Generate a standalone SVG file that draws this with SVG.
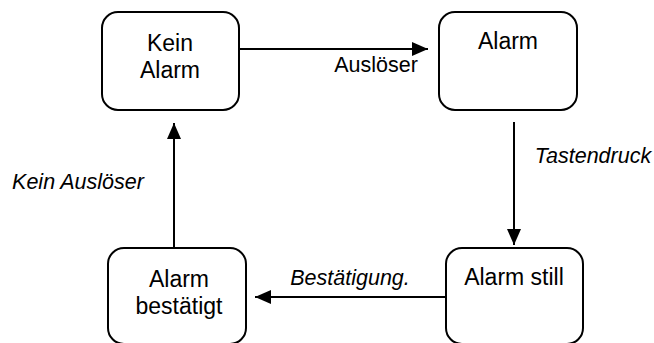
<svg xmlns="http://www.w3.org/2000/svg" width="654" height="343" viewBox="0 0 654 343">
<style>
.box{fill:#fff;stroke:#000;stroke-width:2}
.t{font-family:"Liberation Sans",Arial,sans-serif;font-size:23px;fill:#000;text-anchor:middle}
.l{font-family:"Liberation Sans",Arial,sans-serif;font-size:21.5px;fill:#000;text-anchor:middle}
.i{font-style:italic}
.c{stroke:#000;stroke-width:2;fill:none}
</style>
<defs>
<marker id="ah" markerWidth="16" markerHeight="14" refX="16" refY="7" orient="auto" markerUnits="userSpaceOnUse">
<path d="M0,0 L16,7 L0,14 Z" fill="#000"/>
</marker>
</defs>
<rect width="654" height="343" fill="#fff"/>
<g id="connectors">
<line class="c" x1="239" y1="49" x2="428" y2="49" marker-end="url(#ah)"/>
<line class="c" x1="514" y1="122" x2="514" y2="245" marker-end="url(#ah)"/>
<line class="c" x1="446" y1="297" x2="255" y2="297" marker-end="url(#ah)"/>
<line class="c" x1="174" y1="248" x2="174" y2="123" marker-end="url(#ah)"/>
<text class="l" x="376" y="72">Auslöser</text>
<text class="l i" x="593" y="163">Tastendruck</text>
<text class="l i" x="350" y="285">Bestätigung.</text>
<text class="l i" x="78" y="189">Kein Auslöser</text>
</g>
<g id="kein-alarm">
<rect class="box" x="102" y="12" width="137" height="98" rx="16"/>
<text class="t" x="170" y="51">Kein</text>
<text class="t" x="170" y="78">Alarm</text>
</g>
<g id="alarm">
<rect class="box" x="439" y="12" width="138" height="98" rx="16"/>
<text class="t" x="508" y="49">Alarm</text>
</g>
<g id="alarm-still">
<rect class="box" x="446" y="248" width="137" height="96" rx="16"/>
<text class="t" x="514" y="285">Alarm still</text>
</g>
<g id="alarm-bestaetigt">
<rect class="box" x="108" y="248" width="138" height="96" rx="16"/>
<text class="t" x="179" y="287">Alarm</text>
<text class="t" x="179" y="314">bestätigt</text>
</g>
</svg>
